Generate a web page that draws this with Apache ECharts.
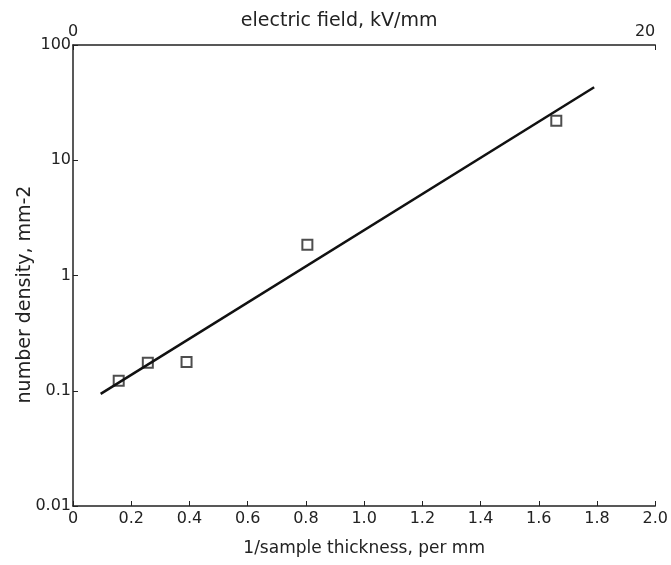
<!DOCTYPE html>
<html><head><meta charset="utf-8">
<script src="https://cdn.jsdelivr.net/npm/echarts@6/dist/echarts.min.js"></script>
<style>html,body{margin:0;padding:0;background:#fff}#c{width:671px;height:565px}</style>
</head><body><div id="c"></div>
<script>
// data
const thickness = [0.157, 0.257, 0.39, 0.805, 1.66];   // 1/sample thickness, per mm
const density = [0.122, 0.175, 0.178, 1.85, 22];       // number density, mm-2
const fitX = [0.095, 1.79];
const fitY = [0.094, 43];
const xTicks = [0, 2.0, 0.2];        // min, max, step
const topTicks = [0, 20];
const yRange = [0.01, 100];

const pts = thickness.map((x, i) => [x, density[i]]);
const fit = fitX.map((x, i) => [x, fitY[i]]);
const font = 'DejaVu Sans';
const chart = echarts.init(document.getElementById('c'));
chart.setOption({
  animation: false,
  backgroundColor: '#fff',
  grid: {left: 73, right: 14, top: 45, bottom: 59},
  xAxis: [{
    type: 'value', position: 'bottom', min: xTicks[0], max: xTicks[1], interval: xTicks[2],
    name: '1/sample thickness, per mm', nameLocation: 'middle', nameGap: 34, nameMoveOverlap: false,
    nameTextStyle: {fontFamily: font, fontSize: 17, color: '#222'},
    axisLine: {lineStyle: {color: '#222', width: 1.5}},
    axisTick: {inside: true, length: 5, lineStyle: {color: '#222'}},
    axisLabel: {fontFamily: font, fontSize: 16, color: '#222', margin: 5,
      formatter: v => v === 0 ? '0' : v.toFixed(1)},
    splitLine: {show: false}
  }, {
    type: 'value', position: 'top', min: topTicks[0], max: topTicks[1], interval: topTicks[1] - topTicks[0],
    name: 'electric field, kV/mm', nameLocation: 'middle', nameGap: 14, nameMoveOverlap: false,
    nameTextStyle: {fontFamily: font, fontSize: 19, color: '#222', padding: [0, 50, 0, 0]},
    axisLine: {lineStyle: {color: '#222', width: 1.5}},
    axisTick: {inside: true, length: 5, lineStyle: {color: '#222'}},
    axisLabel: {fontFamily: font, fontSize: 16, color: '#222', margin: 5, alignMaxLabel: 'right'},
    splitLine: {show: false}
  }],
  yAxis: {
    type: 'log', logBase: 10, min: yRange[0], max: yRange[1],
    name: 'number density, mm-2', nameLocation: 'middle', nameGap: 38, nameMoveOverlap: false,
    nameTextStyle: {fontFamily: font, fontSize: 19, color: '#222', padding: [0, 38, 0, 0]},
    axisLine: {show: true, lineStyle: {color: '#222', width: 1.5}},
    axisTick: {show: true, inside: true, length: 5, lineStyle: {color: '#222'}},
    axisLabel: {fontFamily: font, fontSize: 16, color: '#222', margin: 2,
      formatter: v => String(+v.toPrecision(3))},
    splitLine: {show: false}
  },
  series: [{
    type: 'line', data: fit, xAxisIndex: 0, showSymbol: false, symbol: 'none',
    lineStyle: {color: '#111', width: 2.5}
  }, {
    type: 'scatter', data: pts, xAxisIndex: 0, symbol: 'rect', symbolSize: 10,
    itemStyle: {color: '#fff', borderColor: '#222', borderWidth: 2}
  }]
});
</script></body></html>
